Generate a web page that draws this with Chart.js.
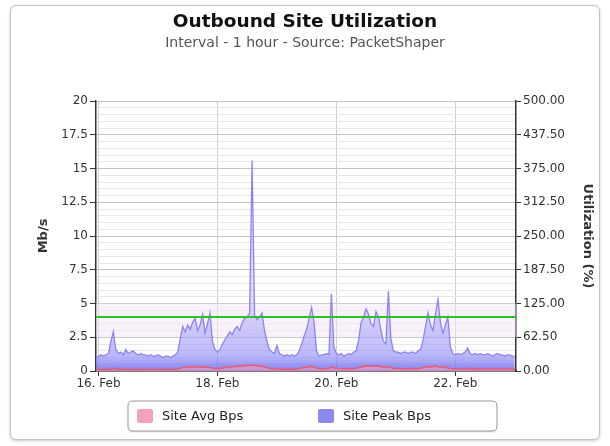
<!DOCTYPE html>
<html>
<head>
<meta charset="utf-8">
<script src="https://cdn.jsdelivr.net/npm/chart.js@4.4.1/dist/chart.umd.min.js"></script>
<style>
  html, body { margin: 0; padding: 0; background: #ffffff; }
  #card {
    position: absolute; left: 10px; top: 5px; width: 588px; height: 433px;
    border: 1px solid #c4c4c4; border-radius: 6px; background: #fff;
    box-shadow: 0 1px 3px rgba(0,0,0,0.22);
  }
  #card canvas { display: block; }
</style>
</head>
<body>
<div id="card"><canvas id="chart" width="588" height="433"></canvas></div>
<script>
// ---- Data (Mb/s, hourly, starting one hour before 16 Feb 00:00) ----
const firstHour = -1;
const peakBps = [
  1.0,1.1,1.2,1.1,1.2,1.3,2.2,2.9,1.6,1.3,
  1.4,1.2,1.6,1.3,1.4,1.5,1.3,1.2,1.3,1.2,
  1.2,1.1,1.2,1.1,1.1,1.2,1.1,1.0,1.1,1.1,
  1.0,1.1,1.2,1.4,2.4,3.3,2.9,3.4,3.1,3.6,
  3.9,3.0,3.4,4.2,2.8,3.5,4.3,2.2,1.6,1.4,
  1.6,2.0,2.3,2.6,2.9,2.7,3.1,3.3,3.0,3.6,
  3.9,4.0,4.3,15.6,4.1,3.8,4.0,4.3,3.0,2.2,
  1.6,1.4,1.3,1.9,1.3,1.2,1.1,1.2,1.1,1.2,
  1.1,1.2,1.5,2.0,2.6,3.1,3.9,4.7,3.6,1.5,
  1.1,1.2,1.2,1.3,1.2,5.7,1.8,1.3,1.2,1.3,
  1.1,1.2,1.3,1.2,1.4,1.5,2.3,3.6,4.0,4.6,
  4.2,3.5,3.3,4.4,4.0,3.0,2.2,2.0,5.9,2.4,
  1.5,1.4,1.4,1.3,1.4,1.4,1.3,1.4,1.4,1.3,
  1.5,1.6,2.3,3.3,4.3,3.4,3.0,4.2,5.3,3.6,
  2.8,3.4,4.0,1.8,1.3,1.2,1.3,1.2,1.3,1.4,
  1.7,1.3,1.2,1.3,1.2,1.3,1.2,1.2,1.3,1.2,
  1.1,1.2,1.3,1.2,1.2,1.1,1.2,1.2,1.1,1.1
];
const avgBps = [
  0.12,0.12,0.12,0.13,0.12,0.13,0.15,0.18,0.15,0.13,
  0.13,0.12,0.13,0.12,0.12,0.13,0.12,0.12,0.12,0.11,
  0.11,0.11,0.11,0.11,0.11,0.12,0.11,0.11,0.11,0.11,
  0.11,0.12,0.12,0.15,0.20,0.25,0.28,0.30,0.30,0.32,
  0.30,0.30,0.32,0.30,0.28,0.30,0.25,0.20,0.18,0.18,
  0.20,0.22,0.25,0.28,0.30,0.32,0.33,0.35,0.35,0.36,
  0.38,0.40,0.40,0.45,0.40,0.38,0.36,0.35,0.30,0.25,
  0.20,0.17,0.15,0.16,0.14,0.13,0.13,0.13,0.13,0.13,
  0.13,0.14,0.18,0.22,0.26,0.30,0.32,0.33,0.30,0.22,
  0.18,0.17,0.17,0.18,0.20,0.30,0.22,0.20,0.18,0.17,
  0.16,0.16,0.17,0.17,0.18,0.20,0.25,0.30,0.34,0.38,
  0.38,0.36,0.35,0.37,0.36,0.32,0.30,0.28,0.32,0.25,
  0.20,0.18,0.18,0.17,0.17,0.18,0.18,0.17,0.17,0.17,
  0.18,0.20,0.25,0.30,0.33,0.30,0.33,0.36,0.32,0.28,
  0.30,0.30,0.22,0.18,0.16,0.15,0.15,0.15,0.16,0.17,
  0.18,0.16,0.15,0.15,0.15,0.15,0.15,0.15,0.15,0.14,
  0.14,0.15,0.15,0.14,0.14,0.14,0.14,0.14,0.14,0.14
];
const xTickHours = [0, 48, 96, 144];
const xTickLabels = ['16. Feb', '18. Feb', '20. Feb', '22. Feb'];
const leftMajorTicks = [0, 2.5, 5, 7.5, 10, 12.5, 15, 17.5, 20];
const rightTicks = [0, 62.5, 125, 187.5, 250, 312.5, 375, 437.5, 500];
const thresholdMbps = 4;
const bandFrom = 2.5, bandTo = 5;
const seriesNames = ['Site Avg Bps', 'Site Peak Bps'];

const FONT = 'DejaVu Sans';

const toPoints = arr => arr.map((v, i) => ({ x: firstHour + i, y: v }));

const peakFill = (ctx) => {
  const chart = ctx.chart;
  const area = chart.chartArea;
  if (!area) return 'rgba(150,145,250,0.5)';
  const y = chart.scales.y;
  const g = chart.ctx.createLinearGradient(0, y.getPixelForValue(0), 0, y.getPixelForValue(5));
  g.addColorStop(0, 'rgba(110,105,235,0.85)');
  g.addColorStop(0.22, 'rgba(140,135,246,0.6)');
  g.addColorStop(1, 'rgba(180,175,255,0.42)');
  return g;
};

const bandPlugin = {
  id: 'band',
  beforeDatasetsDraw(chart) {
    const { ctx, chartArea, scales } = chart;
    const y0 = scales.y.getPixelForValue(bandTo);
    const y1 = scales.y.getPixelForValue(bandFrom);
    ctx.save();
    ctx.fillStyle = 'rgba(246,230,246,0.5)';
    ctx.fillRect(chartArea.left, y0, chartArea.right - chartArea.left, y1 - y0);
    ctx.restore();
  }
};

const thresholdPlugin = {
  id: 'threshold',
  afterDatasetsDraw(chart) {
    const { ctx, chartArea, scales } = chart;
    const yy = scales.y.getPixelForValue(thresholdMbps);
    ctx.save();
    ctx.strokeStyle = 'rgb(40,195,40)';
    ctx.lineWidth = 2;
    ctx.beginPath();
    ctx.moveTo(chartArea.left, yy);
    ctx.lineTo(chartArea.right, yy);
    ctx.stroke();
    ctx.restore();
  }
};

function roundRect(ctx, x, y, w, h, r) {
  ctx.beginPath();
  ctx.moveTo(x + r, y);
  ctx.lineTo(x + w - r, y);
  ctx.quadraticCurveTo(x + w, y, x + w, y + r);
  ctx.lineTo(x + w, y + h - r);
  ctx.quadraticCurveTo(x + w, y + h, x + w - r, y + h);
  ctx.lineTo(x + r, y + h);
  ctx.quadraticCurveTo(x, y + h, x, y + h - r);
  ctx.lineTo(x, y + r);
  ctx.quadraticCurveTo(x, y, x + r, y);
  ctx.closePath();
}

const legendPlugin = {
  id: 'boxLegend',
  afterDraw(chart) {
    const { ctx } = chart;
    const cx = chart.width / 2;
    const bx = cx - 177, by = 395, bw = 369, bh = 30;
    ctx.save();
    ctx.shadowColor = 'rgba(0,0,0,0.18)';
    ctx.shadowBlur = 2;
    ctx.shadowOffsetY = 1;
    roundRect(ctx, bx, by, bw, bh, 5);
    ctx.fillStyle = '#fff';
    ctx.fill();
    ctx.shadowColor = 'transparent';
    ctx.strokeStyle = '#9a9a9a';
    ctx.lineWidth = 1;
    ctx.stroke();
    const swatches = ['rgb(246,162,186)', 'rgb(140,138,236)'];
    const itemX = [bx + 9, bx + 190];
    ctx.font = '13px "' + FONT + '"';
    ctx.textBaseline = 'middle';
    for (let i = 0; i < 2; i++) {
      roundRect(ctx, itemX[i], by + 8, 16, 14, 2);
      ctx.fillStyle = swatches[i];
      ctx.fill();
      ctx.fillStyle = '#222';
      ctx.fillText(chart.data.datasets[i].label, itemX[i] + 25, by + 15.5);
    }
    ctx.restore();
  }
};

new Chart(document.getElementById('chart'), {
  type: 'line',
  data: {
    datasets: [
      {
        label: seriesNames[0],
        data: toPoints(avgBps),
        borderColor: 'rgb(232,90,112)',
        backgroundColor: 'rgba(246,162,186,0.6)',
        borderWidth: 1.5,
        fill: 'origin',
        pointRadius: 0,
        tension: 0
      },
      {
        label: seriesNames[1],
        data: toPoints(peakBps),
        borderColor: 'rgba(135,128,240,0.95)',
        backgroundColor: peakFill,
        borderWidth: 1.3,
        fill: 'origin',
        pointRadius: 0,
        tension: 0
      }
    ]
  },
  options: {
    responsive: false,
    animation: false,
    layout: { padding: { left: 0, right: 0, top: 0, bottom: 0 } },
    plugins: {
      legend: { display: false },
      tooltip: { enabled: false },
      title: {
        display: true,
        text: 'Outbound Site Utilization',
        color: '#111',
        font: { family: FONT, size: 18.5, weight: 'bold' },
        padding: { top: 5, bottom: 1.5 }
      },
      subtitle: {
        display: true,
        text: 'Interval - 1 hour - Source: PacketShaper',
        color: '#555',
        font: { family: FONT, size: 14 },
        padding: { top: 0, bottom: 49.5 }
      }
    },
    scales: {
      x: {
        type: 'linear',
        min: -1,
        max: 168.5,
        afterBuildTicks: s => { s.ticks = xTickHours.map(v => ({ value: v })); },
        afterFit: s => { s.height = 68; },
        ticks: {
          autoSkip: false, maxRotation: 0, padding: 1,
          color: '#333', font: { family: FONT, size: 12 },
          callback: v => xTickLabels[xTickHours.indexOf(v)]
        },
        grid: { color: '#cfcfcf', tickColor: '#333', tickLength: 5, lineWidth: 1 },
        border: { color: '#333', width: 1.5 }
      },
      y: {
        position: 'left',
        min: 0, max: 20,
        afterBuildTicks: s => {
          const t = [];
          for (let k = 0; k <= 40; k++) t.push({ value: k * 0.5 });
          s.ticks = t;
        },
        afterFit: s => { s.width = 85; },
        ticks: {
          autoSkip: false, padding: 2,
          color: '#333', font: { family: FONT, size: 12 },
          callback: v => leftMajorTicks.includes(v) ? String(v) : ''
        },
        grid: {
          color: c => leftMajorTicks.includes(c.tick.value) ? '#c4c4c4' : '#e8e8e8',
          tickColor: c => leftMajorTicks.includes(c.tick.value) ? '#333' : 'rgba(0,0,0,0)',
          tickLength: 6
        },
        border: { color: '#333', width: 1.5 },
        title: {
          display: true, text: 'Mb/s', color: '#333',
          font: { family: FONT, size: 13, weight: 'bold' },
          padding: { top: 25, bottom: 0 }
        }
      },
      y1: {
        position: 'right',
        min: 0, max: 500,
        afterBuildTicks: s => { s.ticks = rightTicks.map(v => ({ value: v })); },
        afterFit: s => { s.width = 83; },
        ticks: {
          autoSkip: false, padding: 2,
          color: '#333', font: { family: FONT, size: 12 },
          callback: v => Number(v).toFixed(2)
        },
        grid: { drawOnChartArea: false, tickColor: '#333', tickLength: 5 },
        border: { color: '#333', width: 1.5 },
        title: {
          display: true, text: 'Utilization (%)', color: '#333',
          font: { family: FONT, size: 13, weight: 'bold' },
          padding: { top: 4, bottom: 0 }
        }
      }
    }
  },
  plugins: [bandPlugin, thresholdPlugin, legendPlugin]
});
</script>
</body>
</html>
